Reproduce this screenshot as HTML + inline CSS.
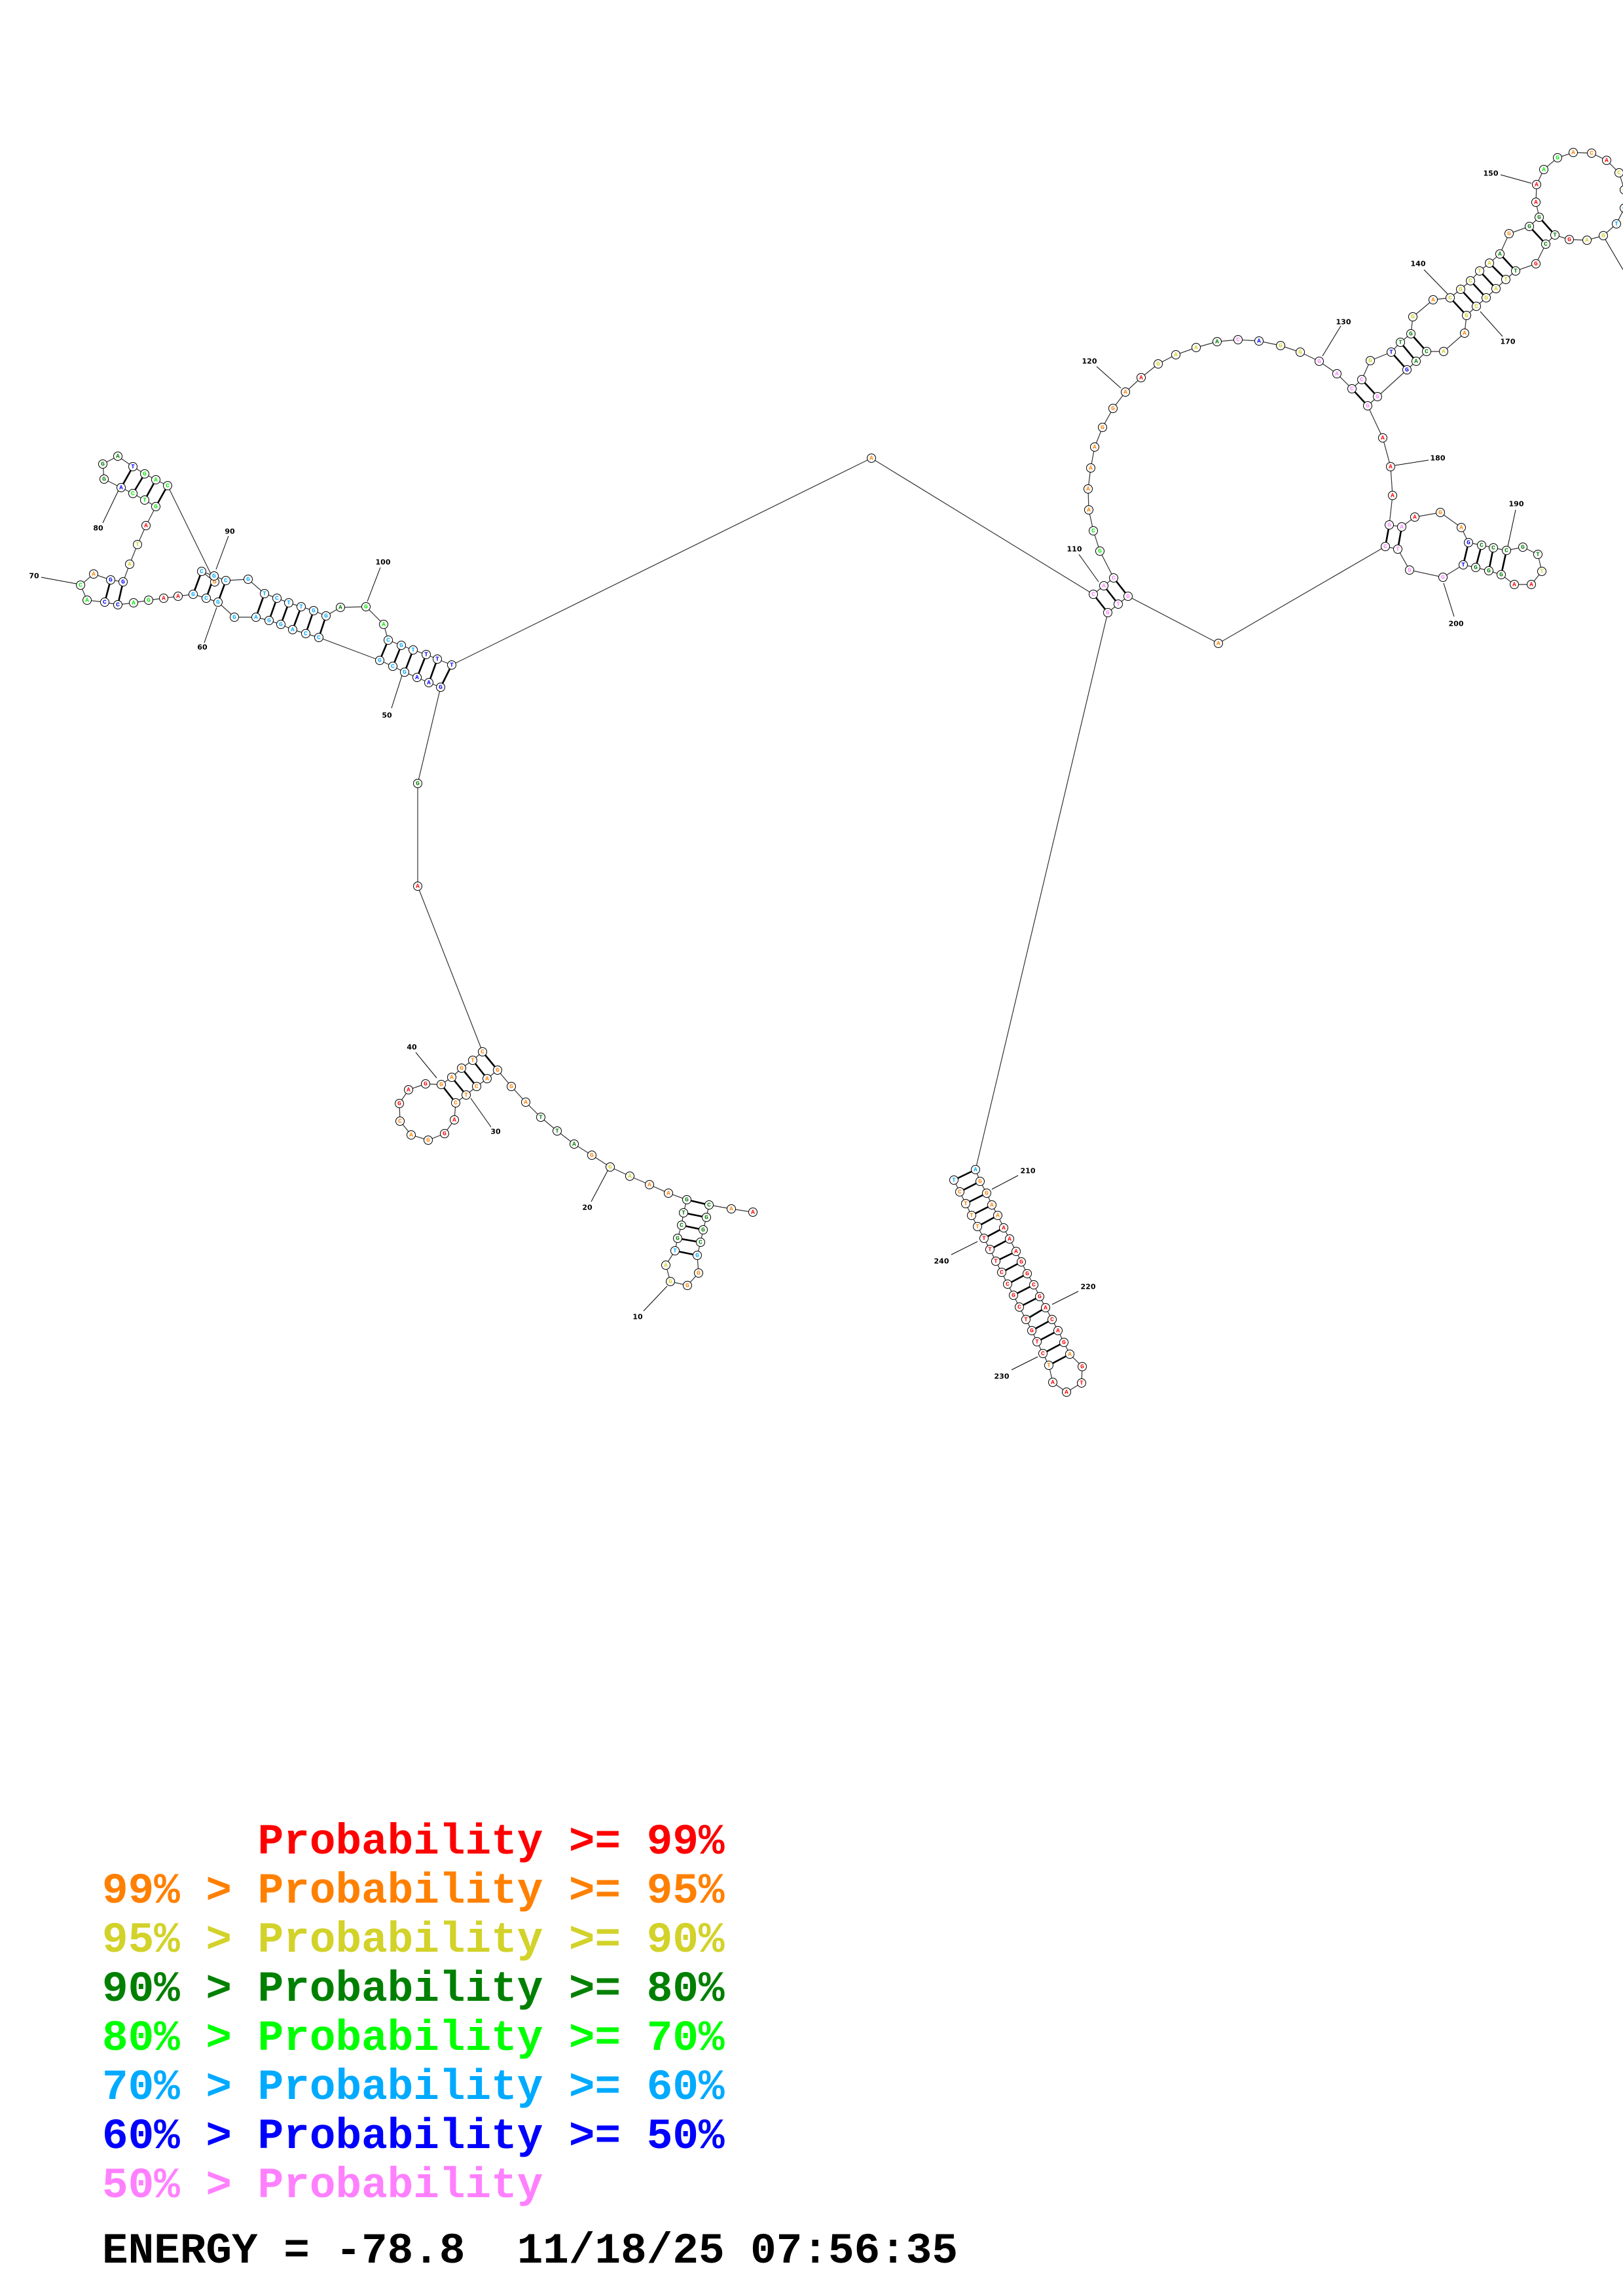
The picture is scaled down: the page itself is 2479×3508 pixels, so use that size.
<!DOCTYPE html>
<html><head><meta charset="utf-8"><style>
html,body{margin:0;padding:0;background:#fff;}
svg{display:block;}
circle{fill:#fff;stroke:#000;stroke-width:1;}
.n{font-family:"Liberation Mono",monospace;font-weight:bold;font-size:9.5px;text-anchor:middle;dominant-baseline:central;}
.l{font-family:"DejaVu Sans","Liberation Sans",sans-serif;font-weight:bold;font-size:11px;text-anchor:middle;dominant-baseline:central;fill:#000;}
.r{fill:#ff0000}.o{fill:#ff8000}.y{fill:#d2d22a}.d{fill:#008000}.g{fill:#00ee00}.c{fill:#00aaff}.b{fill:#0000ff}.p{fill:#ff80ff}
.lg{font-family:"Liberation Mono",monospace;font-weight:bold;font-size:66px;white-space:pre;}
</style></head><body>
<svg width="2479" height="3508" viewBox="0 0 2479 3508" xmlns="http://www.w3.org/2000/svg">
<polyline fill="none" stroke="#333" stroke-width="1.2" points="
1150,1852 1117,1847 1083,1841 1079,1860 1074,1879 1070,1898 1065,1918 1067,1945 1050,1964 1024,1958
1017,1933 1031,1911 1035,1892 1041,1872 1044,1853 1049,1833 1021,1823 992,1810 962,1797 932,1783
904,1765 877,1748 851,1728 826,1707 803,1684 781,1660 760,1635 744,1648 728,1660 712,1673
696,1685 694,1711 679,1732 654,1742 628,1734 611,1713 610,1686 624,1665 650,1656 674,1657
690,1646 705,1632 722,1620 737,1607 638,1354 638,1197 673,1050 655,1043 637,1035 618,1027
600,1018 580,1009 487,974 467,968 447,962 429,954 411,948 391,943 358,943 333,920
315,914 295,908 272,911 250,914 227,917 204,921 180,924 160,920 133,917 123,894
143,877 169,886 188,889 198,862 210,832 223,803 238,774 221,764 203,754 185,745
159,732 157,709 180,697 203,713 221,724 238,733 256,742 328,889 308,873 327,880
345,887 379,885 404,907 423,914 441,921 460,927 479,933 498,941 520,928 559,927
586,954 593,978 613,986 631,993 651,1000 668,1007 690,1016 1331,700 1670,908 1686,895
1701,883 1680,842 1670,811 1663,779 1662,747 1666,715 1672,683 1684,653 1700,624 1719,599
1743,577 1769,556 1796,542 1827,531 1859,522 1891,519 1923,521 1956,528 1986,538 2015,552
2042,571 2065,594 2080,580 2093,551 2125,538 2139,523 2155,510 2158,484 2189,458 2215,455
2231,442 2246,429 2260,414 2275,402 2291,388 2305,357 2336,346 2351,332 2346,309 2347,282
2358,259 2379,241 2403,233 2431,234 2454,245 2473,264 2481,290 2481,318 2469,342 2449,360
2424,367 2397,366 2375,359 2361,373 2346,403 2315,414 2300,427 2285,441 2270,455 2255,468
2240,482 2237,509 2205,537 2179,537 2163,552 2149,565 2104,606 2089,620 2112,669 2124,713
2127,757 2122,802 2141,805 2161,790 2200,783 2232,806 2243,829 2263,833 2281,837 2301,841
2326,836 2349,847 2355,873 2339,893 2313,893 2293,878 2274,872 2254,867 2235,863 2204,882
2153,871 2135,839 2116,835 1861,983 1723,911 1708,923 1692,936 1490,1787 1497,1805 1507,1823
1515,1841 1524,1857 1533,1876 1542,1893 1552,1912 1560,1928 1569,1946 1579,1963 1588,1981 1597,1998
1607,2016 1616,2033 1625,2051 1634,2069 1653,2088 1652,2113 1629,2127 1608,2112 1602,2086 1593,2068
1584,2050 1576,2033 1567,2016 1557,1997 1548,1979 1539,1962 1530,1944 1521,1927 1512,1909 1503,1892
1493,1874 1484,1857 1475,1839 1466,1821 1457,1803"/>
<g stroke="#000" stroke-width="2.6">
<line x1="1083" y1="1841" x2="1049" y2="1833"/><line x1="1079" y1="1860" x2="1044" y2="1853"/><line x1="1074" y1="1879" x2="1041" y2="1872"/><line x1="1070" y1="1898" x2="1035" y2="1892"/><line x1="1065" y1="1918" x2="1031" y2="1911"/>
<line x1="760" y1="1635" x2="737" y2="1607"/><line x1="744" y1="1648" x2="722" y2="1620"/><line x1="728" y1="1660" x2="705" y2="1632"/><line x1="712" y1="1673" x2="690" y2="1646"/><line x1="696" y1="1685" x2="674" y2="1657"/>
<line x1="673" y1="1050" x2="690" y2="1016"/><line x1="655" y1="1043" x2="668" y2="1007"/><line x1="637" y1="1035" x2="651" y2="1000"/><line x1="618" y1="1027" x2="631" y2="993"/><line x1="600" y1="1018" x2="613" y2="986"/><line x1="580" y1="1009" x2="593" y2="978"/>
<line x1="487" y1="974" x2="498" y2="941"/><line x1="467" y1="968" x2="479" y2="933"/><line x1="447" y1="962" x2="460" y2="927"/><line x1="429" y1="954" x2="441" y2="921"/><line x1="411" y1="948" x2="423" y2="914"/><line x1="391" y1="943" x2="404" y2="907"/>
<line x1="333" y1="920" x2="345" y2="887"/><line x1="315" y1="914" x2="327" y2="880"/><line x1="295" y1="908" x2="308" y2="873"/>
<line x1="160" y1="920" x2="169" y2="886"/><line x1="180" y1="924" x2="188" y2="889"/>
<line x1="238" y1="774" x2="256" y2="742"/><line x1="221" y1="764" x2="238" y2="733"/><line x1="203" y1="754" x2="221" y2="724"/><line x1="185" y1="745" x2="203" y2="713"/>
<line x1="1670" y1="908" x2="1692" y2="936"/><line x1="1686" y1="895" x2="1708" y2="923"/><line x1="1701" y1="883" x2="1723" y2="911"/>
<line x1="2065" y1="594" x2="2089" y2="620"/><line x1="2080" y1="580" x2="2104" y2="606"/>
<line x1="2125" y1="538" x2="2149" y2="565"/><line x1="2139" y1="523" x2="2163" y2="552"/><line x1="2155" y1="510" x2="2179" y2="537"/>
<line x1="2215" y1="455" x2="2240" y2="482"/><line x1="2231" y1="442" x2="2255" y2="468"/><line x1="2246" y1="429" x2="2270" y2="455"/><line x1="2260" y1="414" x2="2285" y2="441"/><line x1="2275" y1="402" x2="2300" y2="427"/><line x1="2291" y1="388" x2="2315" y2="414"/><line x1="2336" y1="346" x2="2361" y2="373"/><line x1="2351" y1="332" x2="2375" y2="359"/>
<line x1="2122" y1="802" x2="2116" y2="835"/><line x1="2141" y1="805" x2="2135" y2="839"/>
<line x1="2243" y1="829" x2="2235" y2="863"/><line x1="2263" y1="833" x2="2254" y2="867"/><line x1="2281" y1="837" x2="2274" y2="872"/><line x1="2301" y1="841" x2="2293" y2="878"/>
<line x1="1490" y1="1787" x2="1457" y2="1803"/><line x1="1497" y1="1805" x2="1466" y2="1821"/><line x1="1507" y1="1823" x2="1475" y2="1839"/><line x1="1515" y1="1841" x2="1484" y2="1857"/><line x1="1524" y1="1857" x2="1493" y2="1874"/><line x1="1533" y1="1876" x2="1503" y2="1892"/><line x1="1542" y1="1893" x2="1512" y2="1909"/><line x1="1552" y1="1912" x2="1521" y2="1927"/><line x1="1560" y1="1928" x2="1530" y2="1944"/><line x1="1569" y1="1946" x2="1539" y2="1962"/><line x1="1579" y1="1963" x2="1548" y2="1979"/><line x1="1588" y1="1981" x2="1557" y2="1997"/><line x1="1597" y1="1998" x2="1567" y2="2016"/><line x1="1607" y1="2016" x2="1576" y2="2033"/><line x1="1616" y1="2033" x2="1584" y2="2050"/><line x1="1625" y1="2051" x2="1593" y2="2068"/><line x1="1634" y1="2069" x2="1602" y2="2086"/>
</g>
<g stroke="#000" stroke-width="1">
<line x1="635" y1="1608" x2="667" y2="1647"/><line x1="719" y1="1678" x2="750" y2="1722"/><line x1="929" y1="1787" x2="903" y2="1836"/><line x1="1019" y1="1965" x2="983" y2="2003"/>
<line x1="614" y1="1032" x2="598" y2="1082"/><line x1="182" y1="747" x2="157" y2="799"/><line x1="349" y1="819" x2="330" y2="870"/><line x1="331" y1="928" x2="312" y2="982"/><line x1="581" y1="867" x2="561" y2="919"/><line x1="63" y1="882" x2="117" y2="892"/>
<line x1="2292" y1="267" x2="2339" y2="280"/><line x1="2175" y1="412" x2="2211" y2="449"/><line x1="2261" y1="476" x2="2295" y2="514"/><line x1="2048" y1="498" x2="2020" y2="544"/><line x1="1675" y1="560" x2="1712" y2="593"/><line x1="1648" y1="847" x2="1678" y2="889"/><line x1="2182" y1="703" x2="2131" y2="711"/><line x1="2315" y1="779" x2="2303" y2="835"/><line x1="2205" y1="891" x2="2221" y2="942"/><line x1="2452" y1="366" x2="2479" y2="412"/>
<line x1="1515" y1="1817" x2="1555" y2="1796"/><line x1="1453" y1="1917" x2="1493" y2="1897"/><line x1="1607" y1="1993" x2="1647" y2="1973"/><line x1="1545" y1="2093" x2="1585" y2="2073"/>
</g>
<g class="l">
<text x="629" y="1600">40</text><text x="757" y="1729">30</text><text x="897" y="1845">20</text><text x="974" y="2012">10</text>
<text x="591" y="1093">50</text><text x="150" y="807">80</text><text x="351" y="812">90</text><text x="309" y="989">60</text><text x="585" y="859">100</text><text x="52" y="880">70</text>
<text x="2277" y="265">150</text><text x="2166" y="403">140</text><text x="2303" y="522">170</text><text x="2052" y="492">130</text><text x="1664" y="552">120</text><text x="1641" y="839">110</text><text x="2196" y="700">180</text><text x="2316" y="770">190</text><text x="2224" y="953">200</text><text x="2490" y="421">160</text>
<text x="1570" y="1789">210</text><text x="1438" y="1927">240</text><text x="1662" y="1966">220</text><text x="1530" y="2103">230</text>
</g>
<g>
<circle cx="1150" cy="1852" r="6.5"/><text x="1150" y="1852" class="n r">A</text>
<circle cx="1117" cy="1847" r="6.5"/><text x="1117" y="1847" class="n o">A</text>
<circle cx="1083" cy="1841" r="6.5"/><text x="1083" y="1841" class="n d">C</text>
<circle cx="1079" cy="1860" r="6.5"/><text x="1079" y="1860" class="n d">G</text>
<circle cx="1074" cy="1879" r="6.5"/><text x="1074" y="1879" class="n d">G</text>
<circle cx="1070" cy="1898" r="6.5"/><text x="1070" y="1898" class="n d">C</text>
<circle cx="1065" cy="1918" r="6.5"/><text x="1065" y="1918" class="n c">G</text>
<circle cx="1067" cy="1945" r="6.5"/><text x="1067" y="1945" class="n o">G</text>
<circle cx="1050" cy="1964" r="6.5"/><text x="1050" y="1964" class="n o">G</text>
<circle cx="1024" cy="1958" r="6.5"/><text x="1024" y="1958" class="n y">G</text>
<circle cx="1017" cy="1933" r="6.5"/><text x="1017" y="1933" class="n y">A</text>
<circle cx="1031" cy="1911" r="6.5"/><text x="1031" y="1911" class="n c">T</text>
<circle cx="1035" cy="1892" r="6.5"/><text x="1035" y="1892" class="n d">G</text>
<circle cx="1041" cy="1872" r="6.5"/><text x="1041" y="1872" class="n d">C</text>
<circle cx="1044" cy="1853" r="6.5"/><text x="1044" y="1853" class="n d">T</text>
<circle cx="1049" cy="1833" r="6.5"/><text x="1049" y="1833" class="n d">G</text>
<circle cx="1021" cy="1823" r="6.5"/><text x="1021" y="1823" class="n o">A</text>
<circle cx="992" cy="1810" r="6.5"/><text x="992" y="1810" class="n o">A</text>
<circle cx="962" cy="1797" r="6.5"/><text x="962" y="1797" class="n y">A</text>
<circle cx="932" cy="1783" r="6.5"/><text x="932" y="1783" class="n y">G</text>
<circle cx="904" cy="1765" r="6.5"/><text x="904" y="1765" class="n o">G</text>
<circle cx="877" cy="1748" r="6.5"/><text x="877" y="1748" class="n d">A</text>
<circle cx="851" cy="1728" r="6.5"/><text x="851" y="1728" class="n d">T</text>
<circle cx="826" cy="1707" r="6.5"/><text x="826" y="1707" class="n d">T</text>
<circle cx="803" cy="1684" r="6.5"/><text x="803" y="1684" class="n o">A</text>
<circle cx="781" cy="1660" r="6.5"/><text x="781" y="1660" class="n o">G</text>
<circle cx="760" cy="1635" r="6.5"/><text x="760" y="1635" class="n o">G</text>
<circle cx="744" cy="1648" r="6.5"/><text x="744" y="1648" class="n o">A</text>
<circle cx="728" cy="1660" r="6.5"/><text x="728" y="1660" class="n o">C</text>
<circle cx="712" cy="1673" r="6.5"/><text x="712" y="1673" class="n o">T</text>
<circle cx="696" cy="1685" r="6.5"/><text x="696" y="1685" class="n o">C</text>
<circle cx="694" cy="1711" r="6.5"/><text x="694" y="1711" class="n r">A</text>
<circle cx="679" cy="1732" r="6.5"/><text x="679" y="1732" class="n r">G</text>
<circle cx="654" cy="1742" r="6.5"/><text x="654" y="1742" class="n o">G</text>
<circle cx="628" cy="1734" r="6.5"/><text x="628" y="1734" class="n o">A</text>
<circle cx="611" cy="1713" r="6.5"/><text x="611" y="1713" class="n o">C</text>
<circle cx="610" cy="1686" r="6.5"/><text x="610" y="1686" class="n r">G</text>
<circle cx="624" cy="1665" r="6.5"/><text x="624" y="1665" class="n r">A</text>
<circle cx="650" cy="1656" r="6.5"/><text x="650" y="1656" class="n r">G</text>
<circle cx="674" cy="1657" r="6.5"/><text x="674" y="1657" class="n o">G</text>
<circle cx="690" cy="1646" r="6.5"/><text x="690" y="1646" class="n o">A</text>
<circle cx="705" cy="1632" r="6.5"/><text x="705" y="1632" class="n o">G</text>
<circle cx="722" cy="1620" r="6.5"/><text x="722" y="1620" class="n o">T</text>
<circle cx="737" cy="1607" r="6.5"/><text x="737" y="1607" class="n o">C</text>
<circle cx="638" cy="1354" r="6.5"/><text x="638" y="1354" class="n r">A</text>
<circle cx="638" cy="1197" r="6.5"/><text x="638" y="1197" class="n d">G</text>
<circle cx="673" cy="1050" r="6.5"/><text x="673" y="1050" class="n b">G</text>
<circle cx="655" cy="1043" r="6.5"/><text x="655" y="1043" class="n b">A</text>
<circle cx="637" cy="1035" r="6.5"/><text x="637" y="1035" class="n b">A</text>
<circle cx="618" cy="1027" r="6.5"/><text x="618" y="1027" class="n c">G</text>
<circle cx="600" cy="1018" r="6.5"/><text x="600" y="1018" class="n c">C</text>
<circle cx="580" cy="1009" r="6.5"/><text x="580" y="1009" class="n c">G</text>
<circle cx="487" cy="974" r="6.5"/><text x="487" y="974" class="n c">C</text>
<circle cx="467" cy="968" r="6.5"/><text x="467" y="968" class="n c">C</text>
<circle cx="447" cy="962" r="6.5"/><text x="447" y="962" class="n c">A</text>
<circle cx="429" cy="954" r="6.5"/><text x="429" y="954" class="n c">G</text>
<circle cx="411" cy="948" r="6.5"/><text x="411" y="948" class="n c">G</text>
<circle cx="391" cy="943" r="6.5"/><text x="391" y="943" class="n c">A</text>
<circle cx="358" cy="943" r="6.5"/><text x="358" y="943" class="n c">G</text>
<circle cx="333" cy="920" r="6.5"/><text x="333" y="920" class="n c">G</text>
<circle cx="315" cy="914" r="6.5"/><text x="315" y="914" class="n c">C</text>
<circle cx="295" cy="908" r="6.5"/><text x="295" y="908" class="n c">G</text>
<circle cx="272" cy="911" r="6.5"/><text x="272" y="911" class="n r">A</text>
<circle cx="250" cy="914" r="6.5"/><text x="250" y="914" class="n r">A</text>
<circle cx="227" cy="917" r="6.5"/><text x="227" y="917" class="n g">G</text>
<circle cx="204" cy="921" r="6.5"/><text x="204" y="921" class="n g">A</text>
<circle cx="180" cy="924" r="6.5"/><text x="180" y="924" class="n b">C</text>
<circle cx="160" cy="920" r="6.5"/><text x="160" y="920" class="n b">C</text>
<circle cx="133" cy="917" r="6.5"/><text x="133" y="917" class="n g">A</text>
<circle cx="123" cy="894" r="6.5"/><text x="123" y="894" class="n g">C</text>
<circle cx="143" cy="877" r="6.5"/><text x="143" y="877" class="n o">A</text>
<circle cx="169" cy="886" r="6.5"/><text x="169" y="886" class="n b">G</text>
<circle cx="188" cy="889" r="6.5"/><text x="188" y="889" class="n b">G</text>
<circle cx="198" cy="862" r="6.5"/><text x="198" y="862" class="n y">A</text>
<circle cx="210" cy="832" r="6.5"/><text x="210" y="832" class="n y">T</text>
<circle cx="223" cy="803" r="6.5"/><text x="223" y="803" class="n r">A</text>
<circle cx="238" cy="774" r="6.5"/><text x="238" y="774" class="n g">G</text>
<circle cx="221" cy="764" r="6.5"/><text x="221" y="764" class="n g">T</text>
<circle cx="203" cy="754" r="6.5"/><text x="203" y="754" class="n g">C</text>
<circle cx="185" cy="745" r="6.5"/><text x="185" y="745" class="n b">A</text>
<circle cx="159" cy="732" r="6.5"/><text x="159" y="732" class="n d">G</text>
<circle cx="157" cy="709" r="6.5"/><text x="157" y="709" class="n d">G</text>
<circle cx="180" cy="697" r="6.5"/><text x="180" y="697" class="n d">A</text>
<circle cx="203" cy="713" r="6.5"/><text x="203" y="713" class="n b">T</text>
<circle cx="221" cy="724" r="6.5"/><text x="221" y="724" class="n g">G</text>
<circle cx="238" cy="733" r="6.5"/><text x="238" y="733" class="n g">A</text>
<circle cx="256" cy="742" r="6.5"/><text x="256" y="742" class="n g">C</text>
<circle cx="328" cy="889" r="6.5"/><text x="328" y="889" class="n o">G</text>
<circle cx="308" cy="873" r="6.5"/><text x="308" y="873" class="n c">C</text>
<circle cx="327" cy="880" r="6.5"/><text x="327" y="880" class="n c">G</text>
<circle cx="345" cy="887" r="6.5"/><text x="345" y="887" class="n c">C</text>
<circle cx="379" cy="885" r="6.5"/><text x="379" y="885" class="n c">G</text>
<circle cx="404" cy="907" r="6.5"/><text x="404" y="907" class="n c">T</text>
<circle cx="423" cy="914" r="6.5"/><text x="423" y="914" class="n c">C</text>
<circle cx="441" cy="921" r="6.5"/><text x="441" y="921" class="n c">T</text>
<circle cx="460" cy="927" r="6.5"/><text x="460" y="927" class="n c">T</text>
<circle cx="479" cy="933" r="6.5"/><text x="479" y="933" class="n c">G</text>
<circle cx="498" cy="941" r="6.5"/><text x="498" y="941" class="n c">G</text>
<circle cx="520" cy="928" r="6.5"/><text x="520" y="928" class="n d">A</text>
<circle cx="559" cy="927" r="6.5"/><text x="559" y="927" class="n g">G</text>
<circle cx="586" cy="954" r="6.5"/><text x="586" y="954" class="n g">A</text>
<circle cx="593" cy="978" r="6.5"/><text x="593" y="978" class="n c">C</text>
<circle cx="613" cy="986" r="6.5"/><text x="613" y="986" class="n c">G</text>
<circle cx="631" cy="993" r="6.5"/><text x="631" y="993" class="n c">T</text>
<circle cx="651" cy="1000" r="6.5"/><text x="651" y="1000" class="n b">T</text>
<circle cx="668" cy="1007" r="6.5"/><text x="668" y="1007" class="n b">T</text>
<circle cx="690" cy="1016" r="6.5"/><text x="690" y="1016" class="n b">T</text>
<circle cx="1331" cy="700" r="6.5"/><text x="1331" y="700" class="n o">A</text>
<circle cx="1670" cy="908" r="6.5"/><text x="1670" y="908" class="n p">C</text>
<circle cx="1686" cy="895" r="6.5"/><text x="1686" y="895" class="n p">A</text>
<circle cx="1701" cy="883" r="6.5"/><text x="1701" y="883" class="n p">C</text>
<circle cx="1680" cy="842" r="6.5"/><text x="1680" y="842" class="n g">G</text>
<circle cx="1670" cy="811" r="6.5"/><text x="1670" y="811" class="n g">C</text>
<circle cx="1663" cy="779" r="6.5"/><text x="1663" y="779" class="n o">A</text>
<circle cx="1662" cy="747" r="6.5"/><text x="1662" y="747" class="n o">A</text>
<circle cx="1666" cy="715" r="6.5"/><text x="1666" y="715" class="n o">A</text>
<circle cx="1672" cy="683" r="6.5"/><text x="1672" y="683" class="n o">A</text>
<circle cx="1684" cy="653" r="6.5"/><text x="1684" y="653" class="n o">G</text>
<circle cx="1700" cy="624" r="6.5"/><text x="1700" y="624" class="n o">G</text>
<circle cx="1719" cy="599" r="6.5"/><text x="1719" y="599" class="n o">A</text>
<circle cx="1743" cy="577" r="6.5"/><text x="1743" y="577" class="n r">A</text>
<circle cx="1769" cy="556" r="6.5"/><text x="1769" y="556" class="n y">G</text>
<circle cx="1796" cy="542" r="6.5"/><text x="1796" y="542" class="n y">A</text>
<circle cx="1827" cy="531" r="6.5"/><text x="1827" y="531" class="n y">A</text>
<circle cx="1859" cy="522" r="6.5"/><text x="1859" y="522" class="n d">A</text>
<circle cx="1891" cy="519" r="6.5"/><text x="1891" y="519" class="n p">C</text>
<circle cx="1923" cy="521" r="6.5"/><text x="1923" y="521" class="n b">A</text>
<circle cx="1956" cy="528" r="6.5"/><text x="1956" y="528" class="n y">G</text>
<circle cx="1986" cy="538" r="6.5"/><text x="1986" y="538" class="n y">G</text>
<circle cx="2015" cy="552" r="6.5"/><text x="2015" y="552" class="n p">G</text>
<circle cx="2042" cy="571" r="6.5"/><text x="2042" y="571" class="n p">A</text>
<circle cx="2065" cy="594" r="6.5"/><text x="2065" y="594" class="n p">C</text>
<circle cx="2080" cy="580" r="6.5"/><text x="2080" y="580" class="n p">C</text>
<circle cx="2093" cy="551" r="6.5"/><text x="2093" y="551" class="n y">G</text>
<circle cx="2125" cy="538" r="6.5"/><text x="2125" y="538" class="n b">T</text>
<circle cx="2139" cy="523" r="6.5"/><text x="2139" y="523" class="n d">T</text>
<circle cx="2155" cy="510" r="6.5"/><text x="2155" y="510" class="n d">G</text>
<circle cx="2158" cy="484" r="6.5"/><text x="2158" y="484" class="n y">G</text>
<circle cx="2189" cy="458" r="6.5"/><text x="2189" y="458" class="n o">A</text>
<circle cx="2215" cy="455" r="6.5"/><text x="2215" y="455" class="n y">C</text>
<circle cx="2231" cy="442" r="6.5"/><text x="2231" y="442" class="n y">G</text>
<circle cx="2246" cy="429" r="6.5"/><text x="2246" y="429" class="n y">C</text>
<circle cx="2260" cy="414" r="6.5"/><text x="2260" y="414" class="n y">T</text>
<circle cx="2275" cy="402" r="6.5"/><text x="2275" y="402" class="n y">A</text>
<circle cx="2291" cy="388" r="6.5"/><text x="2291" y="388" class="n d">A</text>
<circle cx="2305" cy="357" r="6.5"/><text x="2305" y="357" class="n o">G</text>
<circle cx="2336" cy="346" r="6.5"/><text x="2336" y="346" class="n d">G</text>
<circle cx="2351" cy="332" r="6.5"/><text x="2351" y="332" class="n d">G</text>
<circle cx="2346" cy="309" r="6.5"/><text x="2346" y="309" class="n r">A</text>
<circle cx="2347" cy="282" r="6.5"/><text x="2347" y="282" class="n r">A</text>
<circle cx="2358" cy="259" r="6.5"/><text x="2358" y="259" class="n g">A</text>
<circle cx="2379" cy="241" r="6.5"/><text x="2379" y="241" class="n g">G</text>
<circle cx="2403" cy="233" r="6.5"/><text x="2403" y="233" class="n o">A</text>
<circle cx="2431" cy="234" r="6.5"/><text x="2431" y="234" class="n o">C</text>
<circle cx="2454" cy="245" r="6.5"/><text x="2454" y="245" class="n r">A</text>
<circle cx="2473" cy="264" r="6.5"/><text x="2473" y="264" class="n y">C</text>
<circle cx="2481" cy="290" r="6.5"/><text x="2481" y="290" class="n y">G</text>
<circle cx="2481" cy="318" r="6.5"/><text x="2481" y="318" class="n c">C</text>
<circle cx="2469" cy="342" r="6.5"/><text x="2469" y="342" class="n c">T</text>
<circle cx="2449" cy="360" r="6.5"/><text x="2449" y="360" class="n y">G</text>
<circle cx="2424" cy="367" r="6.5"/><text x="2424" y="367" class="n y">A</text>
<circle cx="2397" cy="366" r="6.5"/><text x="2397" y="366" class="n r">G</text>
<circle cx="2375" cy="359" r="6.5"/><text x="2375" y="359" class="n d">T</text>
<circle cx="2361" cy="373" r="6.5"/><text x="2361" y="373" class="n d">C</text>
<circle cx="2346" cy="403" r="6.5"/><text x="2346" y="403" class="n r">G</text>
<circle cx="2315" cy="414" r="6.5"/><text x="2315" y="414" class="n d">T</text>
<circle cx="2300" cy="427" r="6.5"/><text x="2300" y="427" class="n y">T</text>
<circle cx="2285" cy="441" r="6.5"/><text x="2285" y="441" class="n y">A</text>
<circle cx="2270" cy="455" r="6.5"/><text x="2270" y="455" class="n y">G</text>
<circle cx="2255" cy="468" r="6.5"/><text x="2255" y="468" class="n y">C</text>
<circle cx="2240" cy="482" r="6.5"/><text x="2240" y="482" class="n y">G</text>
<circle cx="2237" cy="509" r="6.5"/><text x="2237" y="509" class="n o">A</text>
<circle cx="2205" cy="537" r="6.5"/><text x="2205" y="537" class="n y">A</text>
<circle cx="2179" cy="537" r="6.5"/><text x="2179" y="537" class="n d">C</text>
<circle cx="2163" cy="552" r="6.5"/><text x="2163" y="552" class="n d">A</text>
<circle cx="2149" cy="565" r="6.5"/><text x="2149" y="565" class="n b">G</text>
<circle cx="2104" cy="606" r="6.5"/><text x="2104" y="606" class="n p">G</text>
<circle cx="2089" cy="620" r="6.5"/><text x="2089" y="620" class="n p">G</text>
<circle cx="2112" cy="669" r="6.5"/><text x="2112" y="669" class="n r">A</text>
<circle cx="2124" cy="713" r="6.5"/><text x="2124" y="713" class="n r">A</text>
<circle cx="2127" cy="757" r="6.5"/><text x="2127" y="757" class="n r">A</text>
<circle cx="2122" cy="802" r="6.5"/><text x="2122" y="802" class="n p">G</text>
<circle cx="2141" cy="805" r="6.5"/><text x="2141" y="805" class="n p">A</text>
<circle cx="2161" cy="790" r="6.5"/><text x="2161" y="790" class="n r">A</text>
<circle cx="2200" cy="783" r="6.5"/><text x="2200" y="783" class="n o">G</text>
<circle cx="2232" cy="806" r="6.5"/><text x="2232" y="806" class="n o">A</text>
<circle cx="2243" cy="829" r="6.5"/><text x="2243" y="829" class="n b">G</text>
<circle cx="2263" cy="833" r="6.5"/><text x="2263" y="833" class="n d">C</text>
<circle cx="2281" cy="837" r="6.5"/><text x="2281" y="837" class="n d">C</text>
<circle cx="2301" cy="841" r="6.5"/><text x="2301" y="841" class="n d">C</text>
<circle cx="2326" cy="836" r="6.5"/><text x="2326" y="836" class="n d">G</text>
<circle cx="2349" cy="847" r="6.5"/><text x="2349" y="847" class="n d">T</text>
<circle cx="2355" cy="873" r="6.5"/><text x="2355" y="873" class="n y">T</text>
<circle cx="2339" cy="893" r="6.5"/><text x="2339" y="893" class="n r">A</text>
<circle cx="2313" cy="893" r="6.5"/><text x="2313" y="893" class="n r">A</text>
<circle cx="2293" cy="878" r="6.5"/><text x="2293" y="878" class="n d">G</text>
<circle cx="2274" cy="872" r="6.5"/><text x="2274" y="872" class="n d">G</text>
<circle cx="2254" cy="867" r="6.5"/><text x="2254" y="867" class="n d">G</text>
<circle cx="2235" cy="863" r="6.5"/><text x="2235" y="863" class="n b">T</text>
<circle cx="2204" cy="882" r="6.5"/><text x="2204" y="882" class="n p">G</text>
<circle cx="2153" cy="871" r="6.5"/><text x="2153" y="871" class="n p">G</text>
<circle cx="2135" cy="839" r="6.5"/><text x="2135" y="839" class="n p">T</text>
<circle cx="2116" cy="835" r="6.5"/><text x="2116" y="835" class="n p">C</text>
<circle cx="1861" cy="983" r="6.5"/><text x="1861" y="983" class="n o">A</text>
<circle cx="1723" cy="911" r="6.5"/><text x="1723" y="911" class="n p">G</text>
<circle cx="1708" cy="923" r="6.5"/><text x="1708" y="923" class="n p">T</text>
<circle cx="1692" cy="936" r="6.5"/><text x="1692" y="936" class="n p">G</text>
<circle cx="1490" cy="1787" r="6.5"/><text x="1490" y="1787" class="n c">A</text>
<circle cx="1497" cy="1805" r="6.5"/><text x="1497" y="1805" class="n o">G</text>
<circle cx="1507" cy="1823" r="6.5"/><text x="1507" y="1823" class="n o">G</text>
<circle cx="1515" cy="1841" r="6.5"/><text x="1515" y="1841" class="n o">A</text>
<circle cx="1524" cy="1857" r="6.5"/><text x="1524" y="1857" class="n o">A</text>
<circle cx="1533" cy="1876" r="6.5"/><text x="1533" y="1876" class="n r">A</text>
<circle cx="1542" cy="1893" r="6.5"/><text x="1542" y="1893" class="n r">A</text>
<circle cx="1552" cy="1912" r="6.5"/><text x="1552" y="1912" class="n r">A</text>
<circle cx="1560" cy="1928" r="6.5"/><text x="1560" y="1928" class="n r">G</text>
<circle cx="1569" cy="1946" r="6.5"/><text x="1569" y="1946" class="n r">G</text>
<circle cx="1579" cy="1963" r="6.5"/><text x="1579" y="1963" class="n r">C</text>
<circle cx="1588" cy="1981" r="6.5"/><text x="1588" y="1981" class="n r">G</text>
<circle cx="1597" cy="1998" r="6.5"/><text x="1597" y="1998" class="n r">A</text>
<circle cx="1607" cy="2016" r="6.5"/><text x="1607" y="2016" class="n r">C</text>
<circle cx="1616" cy="2033" r="6.5"/><text x="1616" y="2033" class="n r">A</text>
<circle cx="1625" cy="2051" r="6.5"/><text x="1625" y="2051" class="n r">G</text>
<circle cx="1634" cy="2069" r="6.5"/><text x="1634" y="2069" class="n o">A</text>
<circle cx="1653" cy="2088" r="6.5"/><text x="1653" y="2088" class="n r">G</text>
<circle cx="1652" cy="2113" r="6.5"/><text x="1652" y="2113" class="n r">T</text>
<circle cx="1629" cy="2127" r="6.5"/><text x="1629" y="2127" class="n r">A</text>
<circle cx="1608" cy="2112" r="6.5"/><text x="1608" y="2112" class="n r">A</text>
<circle cx="1602" cy="2086" r="6.5"/><text x="1602" y="2086" class="n o">T</text>
<circle cx="1593" cy="2068" r="6.5"/><text x="1593" y="2068" class="n r">C</text>
<circle cx="1584" cy="2050" r="6.5"/><text x="1584" y="2050" class="n r">T</text>
<circle cx="1576" cy="2033" r="6.5"/><text x="1576" y="2033" class="n r">G</text>
<circle cx="1567" cy="2016" r="6.5"/><text x="1567" y="2016" class="n r">T</text>
<circle cx="1557" cy="1997" r="6.5"/><text x="1557" y="1997" class="n r">C</text>
<circle cx="1548" cy="1979" r="6.5"/><text x="1548" y="1979" class="n r">G</text>
<circle cx="1539" cy="1962" r="6.5"/><text x="1539" y="1962" class="n r">C</text>
<circle cx="1530" cy="1944" r="6.5"/><text x="1530" y="1944" class="n r">C</text>
<circle cx="1521" cy="1927" r="6.5"/><text x="1521" y="1927" class="n r">T</text>
<circle cx="1512" cy="1909" r="6.5"/><text x="1512" y="1909" class="n r">T</text>
<circle cx="1503" cy="1892" r="6.5"/><text x="1503" y="1892" class="n r">T</text>
<circle cx="1493" cy="1874" r="6.5"/><text x="1493" y="1874" class="n o">T</text>
<circle cx="1484" cy="1857" r="6.5"/><text x="1484" y="1857" class="n o">T</text>
<circle cx="1475" cy="1839" r="6.5"/><text x="1475" y="1839" class="n o">T</text>
<circle cx="1466" cy="1821" r="6.5"/><text x="1466" y="1821" class="n o">C</text>
<circle cx="1457" cy="1803" r="6.5"/><text x="1457" y="1803" class="n c">T</text>
</g>
<g class="lg" xml:space="preserve">
<text x="156" y="2832" fill="#ff0000" xml:space="preserve">&#160;&#160;&#160;&#160;&#160;&#160;Probability &gt;= 99%</text>
<text x="156" y="2907" fill="#ff8000">99% &gt; Probability &gt;= 95%</text>
<text x="156" y="2982" fill="#d2d22a">95% &gt; Probability &gt;= 90%</text>
<text x="156" y="3057" fill="#008000">90% &gt; Probability &gt;= 80%</text>
<text x="156" y="3132" fill="#00ff00">80% &gt; Probability &gt;= 70%</text>
<text x="156" y="3207" fill="#00aaff">70% &gt; Probability &gt;= 60%</text>
<text x="156" y="3282" fill="#0000ff">60% &gt; Probability &gt;= 50%</text>
<text x="156" y="3357" fill="#ff80ff">50% &gt; Probability</text>
<text x="156" y="3457" fill="#000" xml:space="preserve">ENERGY = -78.8&#160;&#160;11/18/25 07:56:35</text>
</g>
</svg>
</body></html>
